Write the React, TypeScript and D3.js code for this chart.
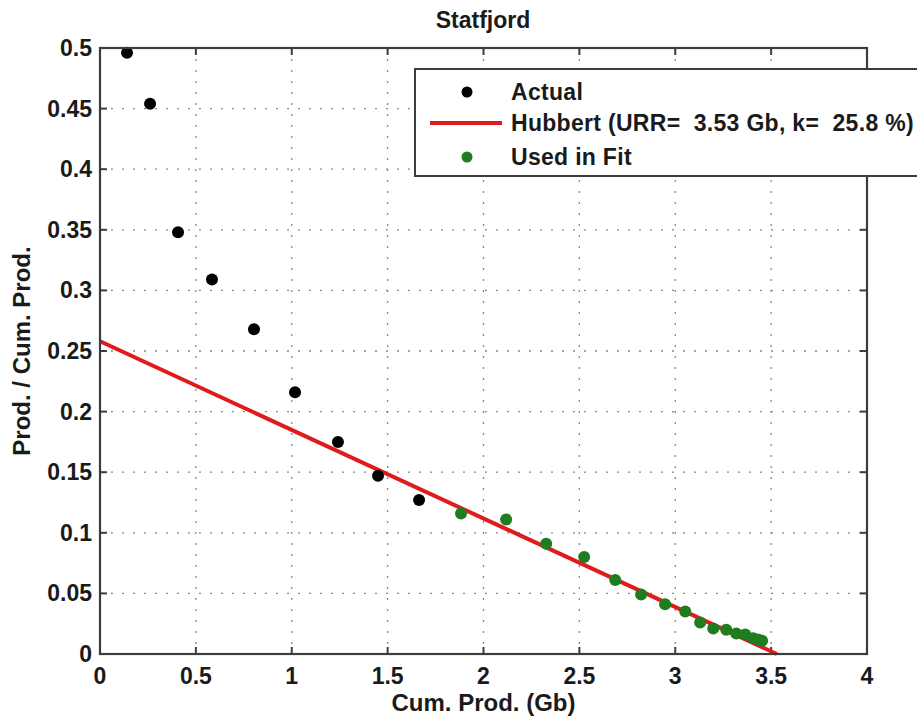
import React from "react";
import * as d3 from "d3";

const actualX = [0.141, 0.261, 0.407, 0.584, 0.803, 1.017, 1.241, 1.45, 1.664];
const actualY = [0.496, 0.454, 0.348, 0.309, 0.268, 0.216, 0.175, 0.147, 0.127];

const fitX = [1.883, 2.118, 2.327, 2.525, 2.687, 2.822, 2.947, 3.052, 3.13, 3.198, 3.266, 3.318, 3.365, 3.406, 3.432, 3.453];
const fitY = [0.116, 0.111, 0.091, 0.08, 0.061, 0.049, 0.041, 0.035, 0.026, 0.021, 0.02, 0.017, 0.016, 0.013, 0.012, 0.011];

const URR = 3.53;
const K = 0.258;
const hubbertX = [0, URR];

const xTicks = [0, 0.5, 1, 1.5, 2, 2.5, 3, 3.5, 4];
const yTicks = [0, 0.05, 0.1, 0.15, 0.2, 0.25, 0.3, 0.35, 0.4, 0.45, 0.5];

const W = 917, H = 719;
const L = 100, R = 867, T = 48, B = 654;
const FONT = "'Liberation Sans', Arial, sans-serif";
const FS = 23;

export default function App() {
  const x = d3.scaleLinear().domain([0, 4]).range([L, R]);
  const y = d3.scaleLinear().domain([0, 0.5]).range([B, T]);
  const line = d3.line<number>().x((d) => x(d)).y((d) => y(K * (1 - d / URR)));
  const axisColor = "#3c3c3c";
  const fmt = (v: number) => String(v);
  return (
    <svg width={W} height={H} style={{ position: "absolute", left: 0, top: 0, background: "#fff" }} fontFamily={FONT} fontWeight="bold">
      <rect x={0} y={0} width={W} height={H} fill="#fff" />
      {xTicks.slice(1, -1).map((t) => (
        <line key={"gx" + t} x1={x(t)} x2={x(t)} y1={T} y2={B} stroke="#888" strokeWidth={1.3} strokeDasharray="2,9" />
      ))}
      {yTicks.slice(1, -1).map((t) => (
        <line key={"gy" + t} x1={L} x2={R} y1={y(t)} y2={y(t)} stroke="#888" strokeWidth={1.3} strokeDasharray="2,9" />
      ))}
      {xTicks.map((t) => (
        <g key={"tx" + t}>
          <line x1={x(t)} x2={x(t)} y1={B} y2={B - 7} stroke={axisColor} strokeWidth={2} />
          <line x1={x(t)} x2={x(t)} y1={T} y2={T + 7} stroke={axisColor} strokeWidth={2} />
          <text x={x(t)} y={684} textAnchor="middle" fontSize={FS} fill="#1a1a1a">{fmt(t)}</text>
        </g>
      ))}
      {yTicks.map((t) => (
        <g key={"ty" + t}>
          <line x1={L} x2={L + 7} y1={y(t)} y2={y(t)} stroke={axisColor} strokeWidth={2} />
          <line x1={R} x2={R - 7} y1={y(t)} y2={y(t)} stroke={axisColor} strokeWidth={2} />
          <text x={92} y={y(t) + 8} textAnchor="end" fontSize={FS} fill="#1a1a1a">{fmt(t)}</text>
        </g>
      ))}
      <path d={line(hubbertX) || ""} stroke="#e01b1b" strokeWidth={4} fill="none" />
      {actualX.map((v, i) => (
        <circle key={"a" + i} cx={x(v)} cy={y(actualY[i])} r={6} fill="#000" />
      ))}
      {fitX.map((v, i) => (
        <circle key={"f" + i} cx={x(v)} cy={y(fitY[i])} r={6} fill="#1e7d1e" />
      ))}
      <rect x={L} y={T} width={R - L} height={B - T} fill="none" stroke={axisColor} strokeWidth={2.2} />
      <rect x={415} y={69} width={520} height={107} fill="#fff" stroke={axisColor} strokeWidth={2} />
      <circle cx={467} cy={92} r={5.5} fill="#000" />
      <line x1={430} x2={502} y1={123} y2={123} stroke="#e01b1b" strokeWidth={4} />
      <circle cx={467} cy={157} r={5.5} fill="#1e7d1e" />
      <g letterSpacing={0.3}>
        <text x={511} y={100} fontSize={FS} fill="#1a1a1a">Actual</text>
        <text x={511} y={131} fontSize={FS} fill="#1a1a1a" xmlSpace="preserve" style={{ whiteSpace: "pre" }}>{"Hubbert (URR=  3.53 Gb, k=  25.8 %)"}</text>
        <text x={511} y={165} fontSize={FS} fill="#1a1a1a">Used in Fit</text>
      </g>
      <text x={483} y={28} textAnchor="middle" fontSize={FS} fill="#1a1a1a">Statfjord</text>
      <text x={(L + R) / 2} y={711} textAnchor="middle" fontSize={24} fill="#1a1a1a">Cum. Prod. (Gb)</text>
      <text transform={`translate(30, ${(T + B) / 2}) rotate(-90)`} textAnchor="middle" fontSize={24} fill="#1a1a1a">Prod. / Cum. Prod.</text>
    </svg>
  );
}
